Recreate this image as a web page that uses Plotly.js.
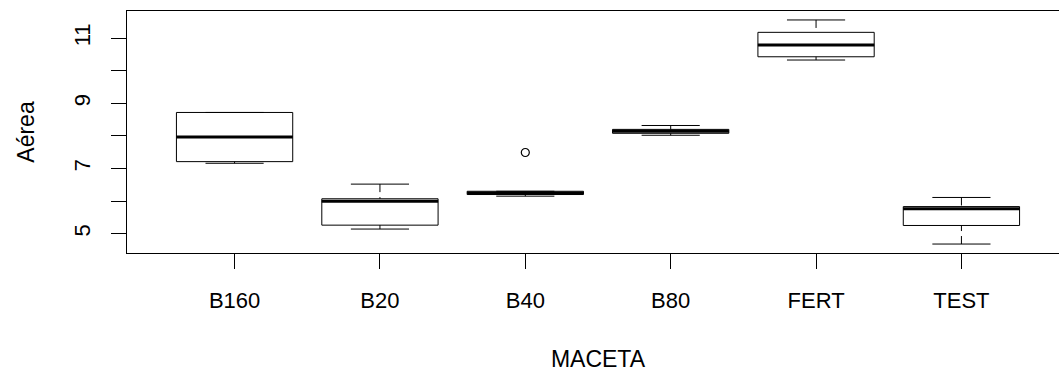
<!DOCTYPE html>
<html>
<head>
<meta charset="utf-8">
<script src="https://cdn.plot.ly/plotly-3.0.1.min.js"></script>
<style>
  html, body { margin: 0; padding: 0; overflow: hidden; background: #fff; }
  #chart { width: 1076px; height: 378px; }
</style>
</head>
<body>
<div id="chart"></div>
<script>
// Data (boxplot statistics of "Aérea" by MACETA)
const categories = ['B160', 'B20', 'B40', 'B80', 'FERT', 'TEST'];
const lowerWhisker = [7.16, 5.14, 6.15, 8.02, 10.33, 4.68];
const q1Values     = [7.21, 5.26, 6.20, 8.08, 10.43, 5.25];
const medianValues = [7.97, 5.99, 6.25, 8.14, 10.79, 5.76];
const q3Values     = [8.72, 6.07, 6.30, 8.20, 11.18, 5.83];
const upperWhisker = [8.72, 6.52, 6.30, 8.32, 11.56, 6.11];
const outlierGroups = ['B40'];
const outlierValues = [7.49];
const yTickValues = [5, 6, 7, 8, 9, 10, 11];
const yTickLabels = ['5', '', '7', '', '9', '', '11'];
const xTitle = 'MACETA';
const yTitle = 'Aérea';

const FONT = '"Liberation Sans", Arial, sans-serif';
const positions = categories.map((c, i) => i + 1);
const boxWidth = 0.8;
const stapleHalf = boxWidth / 4;

// Boxes (whiskers drawn separately so they can be dashed like R)
const boxTrace = {
  type: 'box',
  x: positions,
  q1: q1Values,
  median: medianValues,
  q3: q3Values,
  lowerfence: q1Values,
  upperfence: q3Values,
  width: boxWidth,
  whiskerwidth: 0,
  boxpoints: false,
  fillcolor: 'rgba(255,255,255,0)',
  line: { color: '#000', width: 1 },
  hoverinfo: 'skip',
  showlegend: false
};

// Thick median lines
const medX = [], medY = [];
positions.forEach((p, i) => {
  medX.push(p - boxWidth / 2, p + boxWidth / 2, null);
  medY.push(medianValues[i], medianValues[i], null);
});
const medianTrace = {
  type: 'scatter', mode: 'lines', x: medX, y: medY,
  line: { color: '#000', width: 3 }, hoverinfo: 'skip', showlegend: false
};

// Dashed whiskers (from whisker end toward the box)
const whX = [], whY = [];
positions.forEach((p, i) => {
  whX.push(p, p, null, p, p, null);
  whY.push(upperWhisker[i], q3Values[i], null, lowerWhisker[i], q1Values[i], null);
});
const whiskerTrace = {
  type: 'scatter', mode: 'lines', x: whX, y: whY,
  line: { color: '#000', width: 1, dash: '8px,5px' }, hoverinfo: 'skip', showlegend: false
};

// Staples
const stX = [], stY = [];
positions.forEach((p, i) => {
  stX.push(p - stapleHalf, p + stapleHalf, null, p - stapleHalf, p + stapleHalf, null);
  stY.push(upperWhisker[i], upperWhisker[i], null, lowerWhisker[i], lowerWhisker[i], null);
});
const stapleTrace = {
  type: 'scatter', mode: 'lines', x: stX, y: stY,
  line: { color: '#000', width: 1 }, hoverinfo: 'skip', showlegend: false
};

// Outliers
const outlierTrace = {
  type: 'scatter', mode: 'markers',
  x: outlierGroups.map(g => categories.indexOf(g) + 1),
  y: outlierValues,
  marker: { symbol: 'circle-open', size: 8, color: '#000', line: { width: 1.2, color: '#000' } },
  hoverinfo: 'skip', showlegend: false
};

// R-style 4% range extension
const allVals = lowerWhisker.concat(upperWhisker, outlierValues);
const yMin = Math.min(...allVals), yMax = Math.max(...allVals);
const ySpan = yMax - yMin;
const yRange = [yMin - 0.04 * ySpan, yMax + 0.04 * ySpan];
const nCat = categories.length;
const xSpan = nCat;
const xRange = [0.5 - 0.04 * xSpan, nCat + 0.5 + 0.04 * xSpan];

const layout = {
  width: 1076,
  height: 378,
  margin: { l: 127, r: 7, t: 11, b: 125 },
  paper_bgcolor: '#fff',
  plot_bgcolor: '#fff',
  showlegend: false,
  font: { family: FONT, color: '#000', size: 22 },
  xaxis: {
    range: xRange,
    tickvals: positions,
    ticktext: categories,
    tickfont: { family: FONT, size: 22, color: '#000' },
    ticks: 'outside', ticklen: 15, tickwidth: 1, tickcolor: '#000',
    ticklabelstandoff: 13,
    showline: true, linecolor: '#000', linewidth: 1, mirror: true,
    showgrid: false, zeroline: false,
    title: { text: xTitle, font: { family: FONT, size: 23, color: '#000' }, standoff: 38 }
  },
  yaxis: {
    range: yRange,
    tickvals: yTickValues,
    ticktext: yTickLabels,
    tickangle: -90,
    tickfont: { family: FONT, size: 22, color: '#000' },
    ticks: 'outside', ticklen: 15, tickwidth: 1, tickcolor: '#000',
    ticklabelstandoff: 12,
    showline: true, linecolor: '#000', linewidth: 1, mirror: true,
    showgrid: false, zeroline: false,
    title: { text: yTitle, font: { family: FONT, size: 23, color: '#000' }, standoff: 29 }
  }
};

Plotly.newPlot('chart', [boxTrace, whiskerTrace, stapleTrace, medianTrace, outlierTrace], layout,
  { displayModeBar: false, staticPlot: true });
</script>
</body>
</html>
